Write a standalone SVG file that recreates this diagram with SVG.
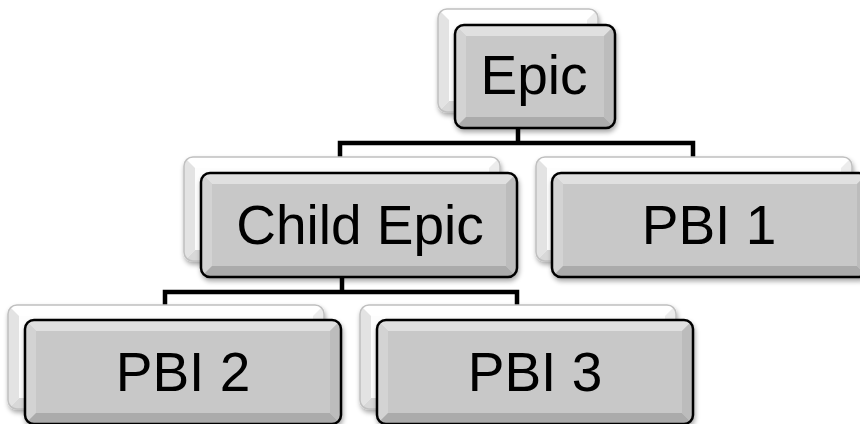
<svg xmlns="http://www.w3.org/2000/svg" xmlns:xlink="http://www.w3.org/1999/xlink" width="860" height="424" viewBox="0 0 860 424">
  <style>
    .lbl { font-family: "Liberation Sans", Arial, sans-serif; font-size: 55px; fill: #000; text-anchor: middle; }
    .conn { fill: none; stroke: #000; stroke-width: 4.5; stroke-linejoin: miter; }
  </style>
  <defs>
    <filter id="sh" x="-10%" y="-10%" width="125%" height="130%">
      <feGaussianBlur in="SourceAlpha" stdDeviation="2.5"/>
      <feOffset dx="1" dy="3" result="b"/>
      <feComponentTransfer><feFuncA type="linear" slope="0.35"/></feComponentTransfer>
      <feMerge><feMergeNode/><feMergeNode in="SourceGraphic"/></feMerge>
    </filter>
    <clipPath id="cw"><rect x="0" y="0" width="316" height="104" rx="9"/></clipPath>
    <symbol id="frontW" width="318" height="106" overflow="visible">
      <g clip-path="url(#cw)">
        <rect x="0" y="0" width="316" height="104" fill="#c8c8c8"/>
        <polygon points="0,0 316,0 305,11 11,11" fill="#e0e0e0"/>
        <polygon points="0,0 11,11 11,93 0,104" fill="#d3d3d3"/>
        <polygon points="0,104 11,93 305,93 316,104" fill="#ababab"/>
        <polygon points="316,0 316,104 305,93 305,11" fill="#bcbcbc"/>
      </g>
      <rect x="0" y="0" width="316" height="104" rx="9" fill="none" stroke="#000" stroke-width="2.5"/>
    </symbol>
    <symbol id="backW" width="318" height="106" overflow="visible">
      <g clip-path="url(#cw)">
        <rect x="0" y="0" width="316" height="104" fill="#fdfdfd"/>
        <polygon points="0,0 316,0 305,11 11,11" fill="#ffffff"/>
        <polygon points="0,0 11,11 11,93 0,104" fill="#e3e3e3"/>
        <polygon points="0,104 11,93 305,93 316,104" fill="#d8d8d8"/>
        <polygon points="316,0 316,104 305,93 305,11" fill="#ececec"/>
      </g>
      <rect x="0" y="0" width="316" height="104" rx="9" fill="none" stroke="#c0c0c0" stroke-width="1.5"/>
    </symbol>
    <clipPath id="ce"><rect x="0" y="0" width="160" height="103" rx="9"/></clipPath>
    <symbol id="frontE" width="162" height="105" overflow="visible">
      <g clip-path="url(#ce)">
        <rect x="0" y="0" width="160" height="103" fill="#c8c8c8"/>
        <polygon points="0,0 160,0 149,11 11,11" fill="#e0e0e0"/>
        <polygon points="0,0 11,11 11,92 0,103" fill="#d3d3d3"/>
        <polygon points="0,103 11,92 149,92 160,103" fill="#ababab"/>
        <polygon points="160,0 160,103 149,92 149,11" fill="#bcbcbc"/>
      </g>
      <rect x="0" y="0" width="160" height="103" rx="9" fill="none" stroke="#000" stroke-width="2.5"/>
    </symbol>
    <symbol id="backE" width="162" height="105" overflow="visible">
      <g clip-path="url(#ce)">
        <rect x="0" y="0" width="160" height="103" fill="#fdfdfd"/>
        <polygon points="0,0 160,0 149,11 11,11" fill="#ffffff"/>
        <polygon points="0,0 11,11 11,92 0,103" fill="#e3e3e3"/>
        <polygon points="0,103 11,92 149,92 160,103" fill="#d8d8d8"/>
        <polygon points="160,0 160,103 149,92 149,11" fill="#ececec"/>
      </g>
      <rect x="0" y="0" width="160" height="103" rx="9" fill="none" stroke="#c0c0c0" stroke-width="1.5"/>
    </symbol>
  </defs>

  <rect width="860" height="424" fill="#ffffff"/>

  <g id="connectors">
    <path class="conn" d="M518,126 V143 M340,157 V143 H693 V157"/>
    <path class="conn" d="M342,276 V292 M165,305 V292 H517 V305"/>
  </g>

  <g id="node-epic">
    <use xlink:href="#backE" x="438" y="9" filter="url(#sh)"/>
    <use xlink:href="#frontE" x="455" y="25" filter="url(#sh)"/>
    <text class="lbl" x="534" y="94">Epic</text>
  </g>

  <g id="node-child-epic">
    <use xlink:href="#backW" x="184" y="157" filter="url(#sh)"/>
    <use xlink:href="#frontW" x="201" y="173" filter="url(#sh)"/>
    <text class="lbl" x="360" y="244">Child Epic</text>
  </g>

  <g id="node-pbi1">
    <use xlink:href="#backW" x="536" y="157" filter="url(#sh)"/>
    <use xlink:href="#frontW" x="552" y="173" filter="url(#sh)"/>
    <text class="lbl" x="709" y="244">PBI 1</text>
  </g>

  <g id="node-pbi2">
    <use xlink:href="#backW" x="8" y="305" filter="url(#sh)"/>
    <use xlink:href="#frontW" x="25" y="320" filter="url(#sh)"/>
    <text class="lbl" x="183" y="391">PBI 2</text>
  </g>

  <g id="node-pbi3">
    <use xlink:href="#backW" x="360" y="305" filter="url(#sh)"/>
    <use xlink:href="#frontW" x="377" y="320" filter="url(#sh)"/>
    <text class="lbl" x="535" y="391">PBI 3</text>
  </g>
</svg>
